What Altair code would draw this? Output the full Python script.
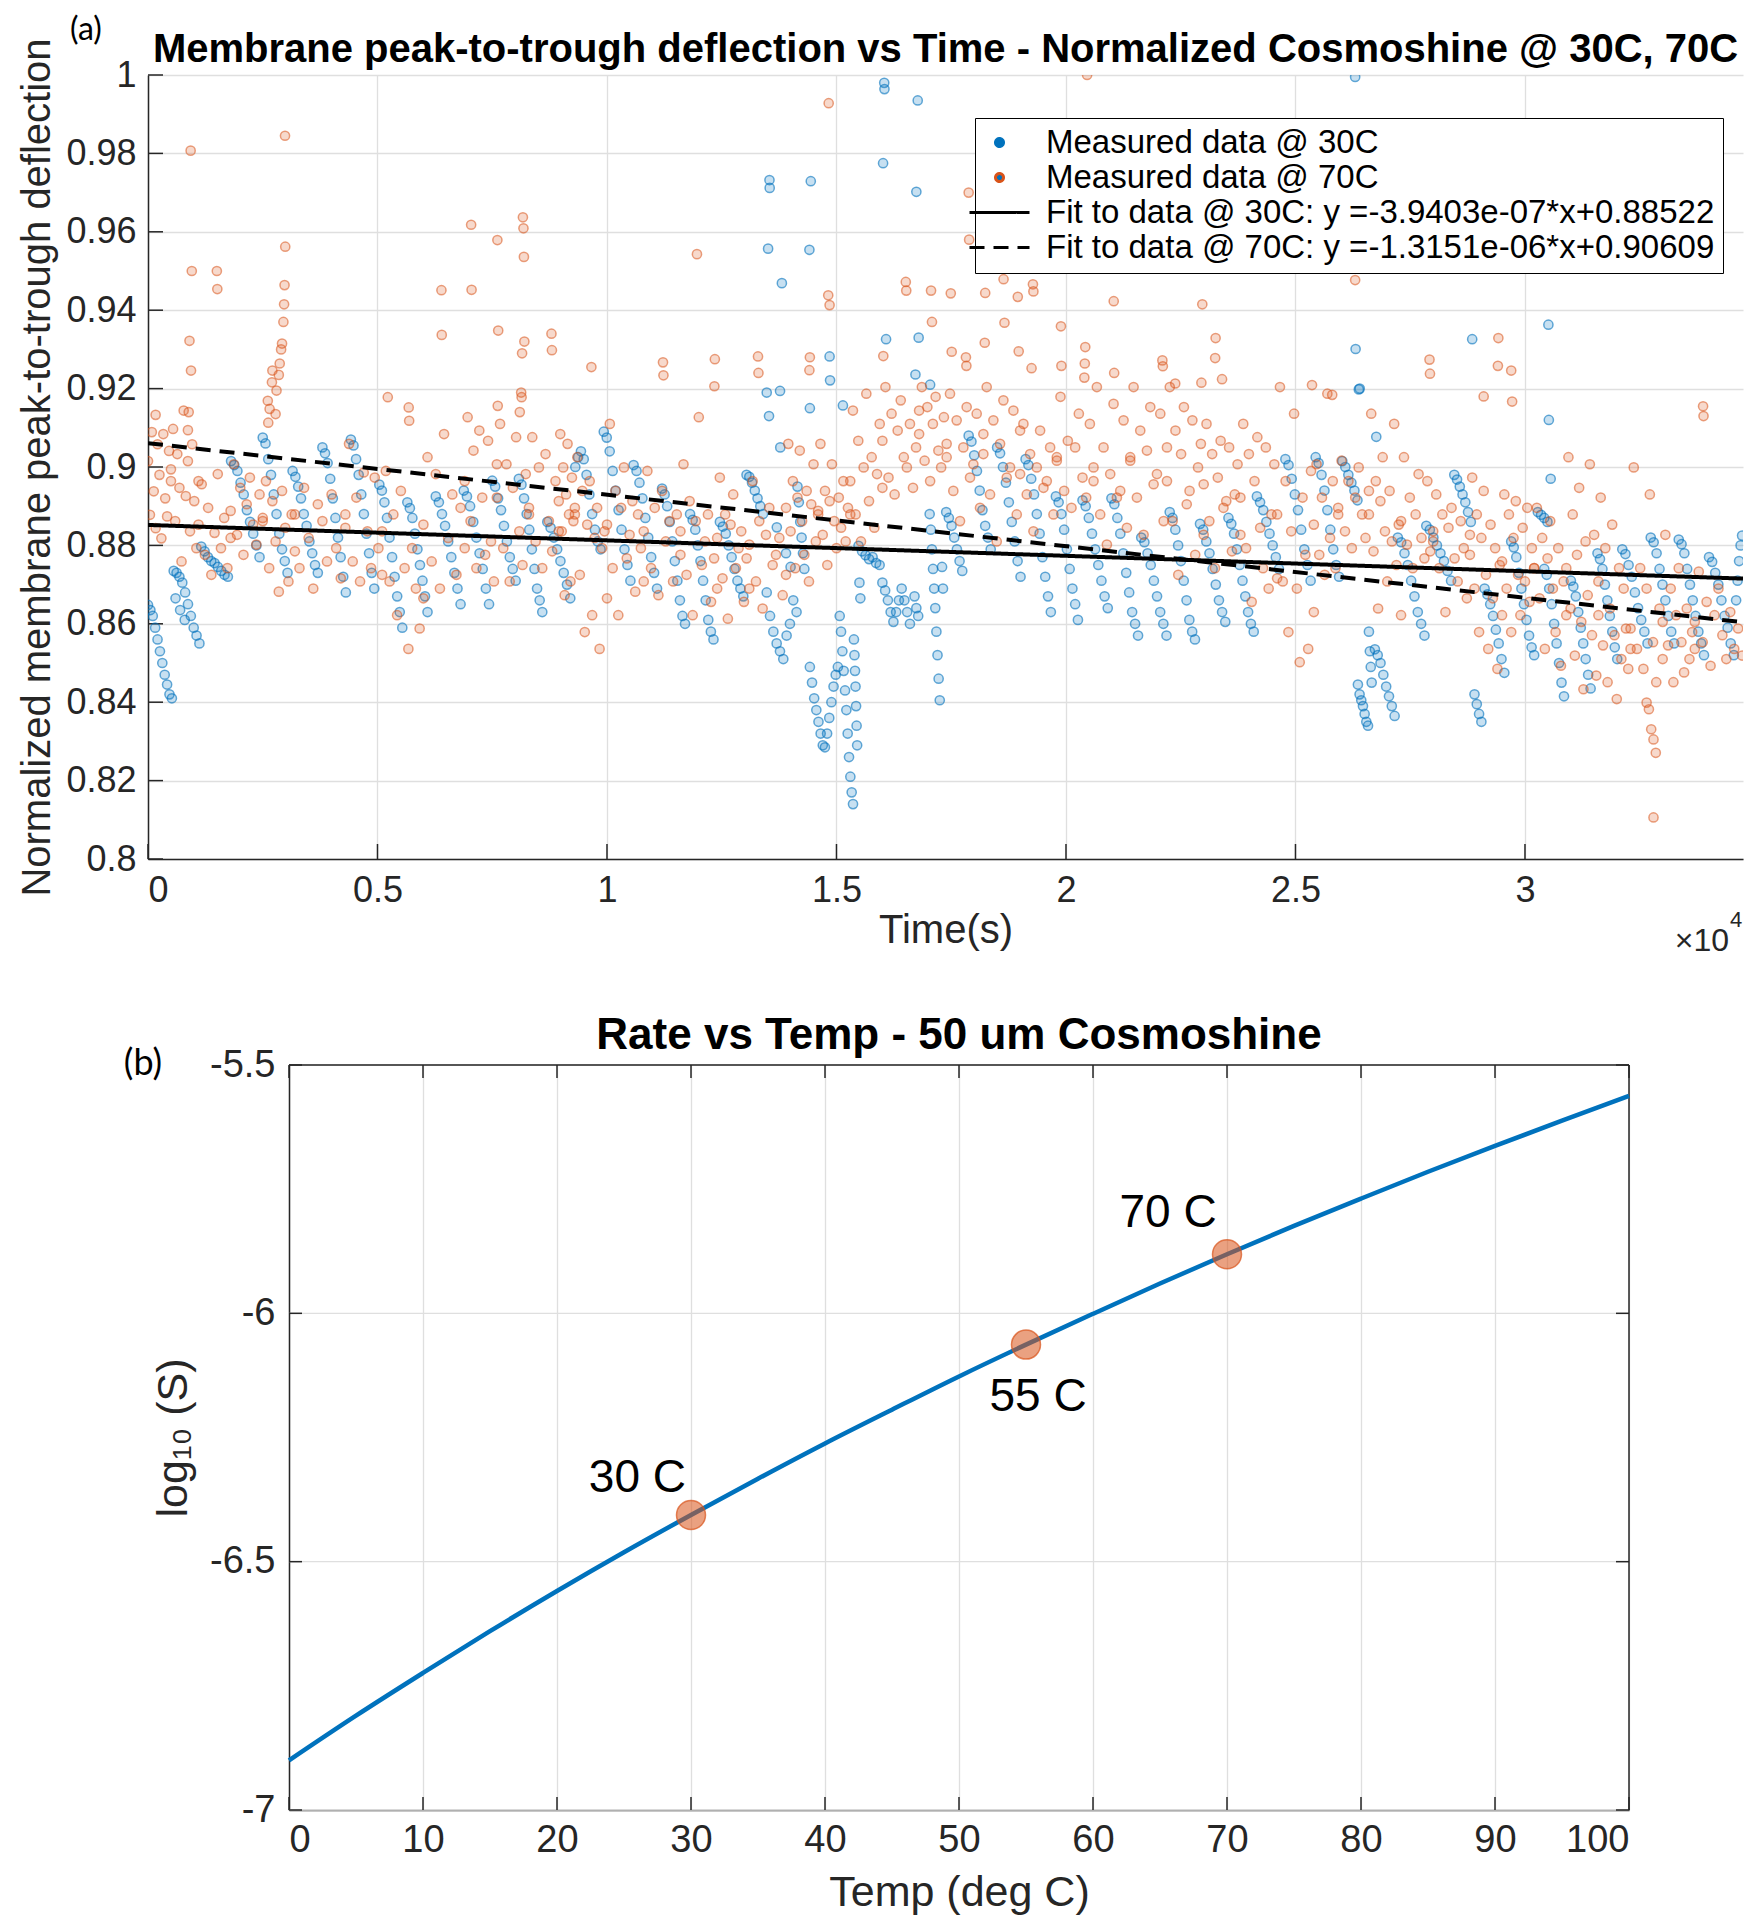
import altair as alt
import pandas as pd

FONT = "Liberation Sans"
AX = "#262626"
GRID = "#dfdfdf"
BLUE = "#0072BD"
ORANGE = "#D95319"

S1 = "Measured data @ 30C"
S2 = "Measured data @ 70C"
S3 = "Fit to data @ 30C: y =-3.9403e-07*x+0.88522"
S4 = "Fit to data @ 70C: y =-1.3151e-06*x+0.90609"
SERIES = [S1, S2, S3, S4]
TITLE_A = "Membrane peak-to-trough deflection vs Time - Normalized Cosmoshine @ 30C, 70C"
TITLE_B = "Rate vs Temp - 50 um Cosmoshine"

# ---------------- panel (a) data ----------------
# blue (30C) saw-tooth runs: (start time, end time, values read along the run)
BLUE_TEETH = [
    (0, 520, [0.8648, 0.8635, 0.862, 0.859, 0.856, 0.853, 0.85, 0.847, 0.8445, 0.842, 0.841]),
    (560, 1120, [0.8735, 0.873, 0.872, 0.8705, 0.868, 0.865, 0.862, 0.859, 0.857, 0.855]),
    (600, 800, [0.8665, 0.8635, 0.861]),
    (1160, 1740, [0.8797, 0.8785, 0.877, 0.876, 0.8755, 0.8745, 0.8735, 0.8725, 0.872]),
    (1810, 2430, [0.9015, 0.9005, 0.899, 0.896, 0.893, 0.889, 0.886, 0.883, 0.88, 0.877]),
    (2500, 3040, [0.9075, 0.906, 0.902, 0.898, 0.893, 0.888, 0.883, 0.879, 0.876, 0.873]),
    (3150, 3700, [0.899, 0.8975, 0.895, 0.892, 0.888, 0.885, 0.881, 0.878, 0.875, 0.873]),
    (3800, 4310, [0.905, 0.9035, 0.901, 0.897, 0.892, 0.887, 0.882, 0.877, 0.872, 0.868]),
    (4420, 4930, [0.907, 0.9055, 0.902, 0.898, 0.893, 0.888, 0.883, 0.878, 0.873, 0.869]),
    (5040, 5540, [0.8955, 0.894, 0.891, 0.887, 0.882, 0.877, 0.872, 0.867, 0.863, 0.859]),
    (5650, 6090, [0.891, 0.8895, 0.887, 0.883, 0.879, 0.875, 0.871, 0.867, 0.863]),
    (6270, 6810, [0.8925, 0.891, 0.888, 0.885, 0.881, 0.877, 0.873, 0.869, 0.865]),
    (6880, 7430, [0.894, 0.8925, 0.89, 0.886, 0.882, 0.878, 0.874, 0.869, 0.865]),
    (7500, 8010, [0.8965, 0.895, 0.892, 0.889, 0.885, 0.881, 0.877, 0.874, 0.871]),
    (8080, 8590, [0.897, 0.8955, 0.892, 0.888, 0.884, 0.879, 0.874, 0.869, 0.866, 0.863]),
    (8700, 9200, [0.886, 0.8845, 0.882, 0.879, 0.876, 0.873, 0.87, 0.8665]),
    (9310, 9860, [0.9, 0.9025, 0.904, 0.902, 0.898, 0.893, 0.888, 0.884, 0.881, 0.879]),
    (9930, 10510, [0.909, 0.9075, 0.904, 0.899, 0.894, 0.889, 0.884, 0.879, 0.875, 0.871]),
    (10580, 11090, [0.9005, 0.899, 0.896, 0.892, 0.887, 0.882, 0.877, 0.873, 0.869]),
    (11200, 11700, [0.8945, 0.893, 0.89, 0.886, 0.881, 0.876, 0.871, 0.866, 0.862, 0.86]),
    (11810, 12320, [0.888, 0.8865, 0.884, 0.88, 0.876, 0.871, 0.866, 0.861, 0.858, 0.856]),
    (12460, 12970, [0.886, 0.8848, 0.883, 0.88, 0.877, 0.874, 0.871, 0.869, 0.867]),
    (13040, 13400, [0.898, 0.8975, 0.896, 0.894, 0.892, 0.89, 0.888]),
    (13480, 14130, [0.868, 0.862, 0.858, 0.855, 0.853, 0.851, 0.857, 0.86, 0.866, 0.863]),
    (14150, 14300, [0.895, 0.891, 0.886, 0.882, 0.878, 0.874]),
    (14420, 15030, [0.849, 0.845, 0.841, 0.838, 0.835, 0.832, 0.829, 0.8285, 0.832, 0.836, 0.84, 0.844, 0.847, 0.849]),
    (15070, 15360, [0.862, 0.858, 0.853, 0.848, 0.843, 0.838, 0.832, 0.826, 0.821, 0.817, 0.814]),
    (15380, 15450, [0.856, 0.852, 0.848, 0.844, 0.839, 0.834, 0.829]),
    (15480, 15940, [0.8799, 0.8785, 0.8775, 0.8765, 0.877, 0.8755, 0.875]),
    (16000, 16600, [0.8705, 0.8685, 0.866, 0.863, 0.8605, 0.863, 0.866, 0.869, 0.866, 0.863, 0.86]),
    (16700, 16780, [0.867, 0.864, 0.862]),
    (17030, 17250, [0.888, 0.884, 0.879, 0.874, 0.869, 0.864, 0.858, 0.852, 0.846, 0.8405]),
    (17390, 17740, [0.8885, 0.887, 0.885, 0.882, 0.879, 0.876, 0.8735]),
    (17880, 18360, [0.908, 0.9065, 0.903, 0.899, 0.894, 0.889, 0.885, 0.882, 0.879]),
    (18500, 19010, [0.905, 0.9035, 0.9, 0.896, 0.891, 0.886, 0.881, 0.876, 0.872]),
    (19120, 19670, [0.902, 0.9005, 0.897, 0.893, 0.888, 0.883, 0.877, 0.872, 0.867, 0.863]),
    (19780, 20260, [0.8925, 0.891, 0.888, 0.884, 0.879, 0.874, 0.869, 0.865, 0.861]),
    (20360, 20910, [0.8915, 0.89, 0.887, 0.883, 0.879, 0.875, 0.871, 0.867, 0.864]),
    (20990, 21570, [0.892, 0.8905, 0.887, 0.883, 0.878, 0.873, 0.868, 0.863, 0.86, 0.857]),
    (21640, 22190, [0.882, 0.8808, 0.878, 0.875, 0.871, 0.867, 0.863, 0.86, 0.857]),
    (22260, 22810, [0.8885, 0.887, 0.884, 0.88, 0.876, 0.871, 0.866, 0.861, 0.858, 0.856]),
    (22920, 23470, [0.8855, 0.884, 0.881, 0.878, 0.874, 0.87, 0.866, 0.863, 0.8605]),
    (23540, 24090, [0.887, 0.8855, 0.883, 0.879, 0.875, 0.871, 0.867, 0.863, 0.86, 0.858]),
    (24160, 24640, [0.8925, 0.891, 0.889, 0.886, 0.883, 0.88, 0.877, 0.874]),
    (24780, 25330, [0.902, 0.9005, 0.897, 0.893, 0.889, 0.884, 0.879, 0.875, 0.871]),
    (25440, 25950, [0.9025, 0.901, 0.898, 0.894, 0.889, 0.884, 0.879, 0.875, 0.872]),
    (26020, 26350, [0.9015, 0.9, 0.898, 0.896, 0.894, 0.8915]),
    (26360, 26580, [0.8445, 0.842, 0.8405, 0.839, 0.837, 0.835, 0.834]),
    (26600, 26660, [0.858, 0.853, 0.849, 0.845]),
    (26730, 27160, [0.8535, 0.852, 0.85, 0.847, 0.844, 0.8415, 0.839, 0.8365]),
    (27230, 27810, [0.882, 0.8808, 0.878, 0.875, 0.871, 0.867, 0.863, 0.86, 0.857]),
    (27850, 28390, [0.885, 0.884, 0.882, 0.88, 0.878, 0.876, 0.8735, 0.871]),
    (28460, 28820, [0.898, 0.8968, 0.895, 0.893, 0.891, 0.8885, 0.886]),
    (28900, 29050, [0.842, 0.8395, 0.837, 0.835]),
    (29120, 29550, [0.869, 0.8675, 0.865, 0.862, 0.8585, 0.855, 0.851, 0.8475]),
    (29700, 30200, [0.881, 0.8795, 0.877, 0.873, 0.869, 0.865, 0.861, 0.857, 0.854, 0.852]),
    (30280, 30490, [0.8885, 0.8878, 0.887, 0.886]),
    (30420, 30850, [0.874, 0.8725, 0.869, 0.865, 0.86, 0.855, 0.85, 0.845, 0.8415]),
    (31000, 31430, [0.871, 0.8695, 0.867, 0.863, 0.859, 0.855, 0.851, 0.847, 0.8435]),
    (31580, 32010, [0.878, 0.8765, 0.874, 0.87, 0.866, 0.862, 0.858, 0.854, 0.851]),
    (32120, 32670, [0.879, 0.8778, 0.875, 0.872, 0.868, 0.864, 0.861, 0.858, 0.855]),
    (32740, 33250, [0.882, 0.8808, 0.878, 0.874, 0.87, 0.866, 0.862, 0.858, 0.855]),
    (33350, 33900, [0.8815, 0.8803, 0.878, 0.874, 0.87, 0.866, 0.862, 0.858, 0.855, 0.852]),
    (34010, 34550, [0.877, 0.8758, 0.873, 0.87, 0.866, 0.862, 0.859, 0.855, 0.852]),
    (34600, 34730, [0.866, 0.871, 0.876, 0.88, 0.8825]),
]
BLUE_OUTLIERS = [
    (13480, 0.919), (13510, 0.9557), (13530, 0.913), (13540, 0.9732), (13545, 0.9712),
    (13700, 0.8846), (13770, 0.9194), (13775, 0.905), (13810, 0.9469), (13900, 0.878),
    (14000, 0.8745), (14410, 0.9554), (14420, 0.915), (14440, 0.9729), (14850, 0.9282),
    (14860, 0.9221), (15140, 0.9157), (15500, 0.8705), (15520, 0.8665), (16015, 0.9775),
    (16040, 0.998), (16045, 0.9964), (16080, 0.9326), (16720, 0.9236), (16740, 0.9702),
    (16770, 0.9935), (16790, 0.933), (17040, 0.921), (17300, 0.8745), (17320, 0.869),
    (26300, 0.9995), (26310, 0.9301), (26380, 0.9198), (26400, 0.92), (26760, 0.9077),
    (28850, 0.9326), (30510, 0.9363), (30520, 0.912), (30560, 0.897),
]
# orange (70C) scattered points: (window start, window end, values read in that window)
ORANGE_WINDOWS = [
    (0, 500, [0.9015, 0.8878, 0.9089, 0.8938, 0.8844, 0.9058, 0.898, 0.8818, 0.9084, 0.892, 0.8874, 0.9041, 0.8964]),
    (500, 1100, [0.8994, 0.9097, 0.8862, 0.9033, 0.8947, 0.8759, 0.9144, 0.8926, 0.9015, 0.8836, 0.9058, 0.8913, 0.8793, 0.8964]),
    (1100, 1800, [0.8853, 0.8956, 0.8776, 0.8896, 0.8725, 0.8832, 0.8982, 0.8793, 0.887, 0.8742, 0.8819]),
    (1800, 2500, [0.8888, 0.9007, 0.8827, 0.8947, 0.8776, 0.8905, 0.8973, 0.8853, 0.8802, 0.893, 0.887]),
    (2500, 3200, [0.8862, 0.8964, 0.8742, 0.8913, 0.881, 0.8682, 0.8939, 0.8845, 0.8708, 0.8879, 0.8785]),
    (3200, 4300, [0.8879, 0.8742, 0.8947, 0.8819, 0.869, 0.8905, 0.8862, 0.8759, 0.893, 0.8793, 0.8716, 0.8845]),
    (4300, 5100, [0.8879, 0.9059, 0.8759, 0.8922, 0.8708, 0.8986, 0.8836, 0.8742, 0.8973, 0.8793, 0.8725]),
    (5100, 6000, [0.8836, 0.899, 0.8708, 0.8879, 0.8622, 0.8939, 0.8742, 0.8536, 0.8793, 0.869, 0.8588, 0.8665]),
    (6000, 6900, [0.8853, 0.9025, 0.8759, 0.8982, 0.869, 0.9084, 0.8819, 0.893, 0.8725, 0.8896, 0.8793]),
    (6900, 7600, [0.8964, 0.9127, 0.8862, 0.9042, 0.8742, 0.9093, 0.8922, 0.8776, 0.9067, 0.881, 0.8708, 0.9007]),
    (7600, 8300, [0.8922, 0.911, 0.8793, 0.9007, 0.8708, 0.8947, 0.9076, 0.8836, 0.875, 0.8982, 0.8879]),
    (8300, 8950, [0.8896, 0.9076, 0.881, 0.8999, 0.8742, 0.9033, 0.8862, 0.8785, 0.8964, 0.8836]),
    (8950, 9300, [0.8913, 0.9084, 0.8836, 0.8999, 0.8673, 0.893, 0.9059, 0.8879, 0.8708, 0.8973, 0.8862, 0.8896]),
    (9300, 10000, [0.8879, 0.9025, 0.8725, 0.8939, 0.8579, 0.8853, 0.8964, 0.8622, 0.8819, 0.8896, 0.8536, 0.8793, 0.8836, 0.8665]),
    (10000, 10800, [0.8853, 0.911, 0.8742, 0.8939, 0.8622, 0.8896, 0.8999, 0.8767, 0.8827, 0.8913, 0.8682, 0.8879, 0.8793, 0.8708]),
    (10800, 11600, [0.8836, 0.899, 0.8742, 0.8896, 0.8673, 0.8939, 0.881, 0.8862, 0.8708, 0.8879, 0.8776]),
    (11600, 12400, [0.8836, 0.9007, 0.8725, 0.8913, 0.8622, 0.8862, 0.9127, 0.875, 0.881, 0.8879, 0.8656, 0.8767, 0.869]),
    (12400, 13100, [0.8819, 0.8973, 0.8716, 0.8879, 0.8613, 0.8853, 0.893, 0.8742, 0.8793, 0.8836, 0.8656, 0.8767, 0.869]),
    (13100, 13900, [0.8802, 0.8964, 0.8708, 0.8862, 0.8639, 0.8827, 0.8896, 0.875, 0.8776, 0.8819, 0.8673, 0.8725]),
    (13900, 14600, [0.8896, 0.9059, 0.8836, 0.8964, 0.8742, 0.8922, 0.9042, 0.8862, 0.8776, 0.8939, 0.8708, 0.8905, 0.9007, 0.881, 0.8879]),
    (14600, 15300, [0.8888, 0.9059, 0.8827, 0.8939, 0.875, 0.8913, 0.9007, 0.8862, 0.8793, 0.8922, 0.8845, 0.8964, 0.881, 0.8896, 0.8879]),
    (15300, 16000, [0.8964, 0.9144, 0.8879, 0.9067, 0.881, 0.8999, 0.9187, 0.8913, 0.9025, 0.8845, 0.8982, 0.911, 0.8947]),
    (16000, 16800, [0.9067, 0.9204, 0.8973, 0.9136, 0.893, 0.9093, 0.917, 0.9025, 0.8999, 0.911, 0.8947, 0.905, 0.9144]),
    (16800, 17400, [0.9084, 0.9204, 0.9016, 0.9153, 0.8964, 0.911, 0.9179, 0.9042, 0.8999, 0.9127, 0.9059]),
    (17400, 18200, [0.9025, 0.9187, 0.8939, 0.9119, 0.8862, 0.905, 0.9153, 0.8973, 0.9007, 0.9136, 0.8896, 0.9084]),
    (18200, 19000, [0.9033, 0.9204, 0.893, 0.9119, 0.881, 0.9059, 0.917, 0.8973, 0.8999, 0.9144, 0.8879, 0.9093]),
    (19000, 19800, [0.8982, 0.911, 0.893, 0.9033, 0.8836, 0.8999, 0.9093, 0.8947, 0.8964, 0.905, 0.8879, 0.9016]),
    (19800, 20600, [0.9025, 0.9179, 0.8939, 0.9067, 0.8896, 0.905, 0.9136, 0.8973, 0.8922, 0.911, 0.8999]),
    (20600, 21400, [0.8964, 0.9204, 0.8879, 0.905, 0.8802, 0.8982, 0.9161, 0.8922, 0.8939, 0.9119, 0.8845, 0.9025]),
    (21400, 22200, [0.9016, 0.9204, 0.8922, 0.9093, 0.8827, 0.9042, 0.9153, 0.8956, 0.8982, 0.9136, 0.8862, 0.905]),
    (22200, 23000, [0.8964, 0.9204, 0.8862, 0.9093, 0.8725, 0.9033, 0.9153, 0.8905, 0.8939, 0.9119, 0.8776, 0.8999, 0.9059, 0.8827]),
    (23000, 23800, [0.8956, 0.911, 0.8862, 0.9033, 0.8742, 0.8973, 0.9067, 0.8896, 0.8913, 0.905, 0.8785, 0.893, 0.9007, 0.8827]),
    (23800, 24600, [0.8922, 0.911, 0.8793, 0.9033, 0.8656, 0.8964, 0.9076, 0.8845, 0.8742, 0.905, 0.869, 0.8879, 0.9007, 0.8716]),
    (24600, 25400, [0.8879, 0.9204, 0.8708, 0.8964, 0.8579, 0.8836, 0.9136, 0.869, 0.8502, 0.8922, 0.8776, 0.8536, 0.899, 0.863]),
    (25400, 25930, [0.8853, 0.9007, 0.8776, 0.8922, 0.8725, 0.9187, 0.8819, 0.8964, 0.8742, 0.8879]),
    (25930, 26600, [0.8896, 0.9016, 0.8836, 0.8964, 0.8793, 0.8922, 0.8999, 0.8879, 0.8819, 0.8939]),
    (26600, 27300, [0.8879, 0.9136, 0.8785, 0.8964, 0.8639, 0.8913, 0.9025, 0.8836, 0.8708, 0.8939, 0.881, 0.911, 0.875, 0.8853, 0.8622]),
    (27300, 28000, [0.8862, 0.9025, 0.8802, 0.8922, 0.8742, 0.8879, 0.8982, 0.8819, 0.8767, 0.8964, 0.8785, 0.8836]),
    (28000, 28800, [0.881, 0.893, 0.8742, 0.8879, 0.863, 0.8845, 0.8896, 0.8767, 0.8708, 0.8862, 0.8793, 0.8665, 0.8827]),
    (28800, 29500, [0.8776, 0.8973, 0.869, 0.8879, 0.8579, 0.8819, 0.8939, 0.8725, 0.8536, 0.8853, 0.8665, 0.8793, 0.8485, 0.875, 0.8622]),
    (29500, 30200, [0.8759, 0.893, 0.869, 0.8879, 0.8579, 0.8819, 0.8913, 0.8725, 0.8622, 0.8845, 0.8708, 0.8896, 0.8656, 0.8793, 0.8742]),
    (30200, 30900, [0.8742, 0.8896, 0.8665, 0.8819, 0.8536, 0.8767, 0.8862, 0.869, 0.8579, 0.8793, 0.8493, 0.8708, 0.8622]),
    (30900, 31600, [0.8742, 0.9025, 0.8639, 0.8879, 0.8519, 0.8776, 0.8947, 0.8605, 0.8433, 0.881, 0.8673, 0.9007, 0.8571, 0.8827, 0.8468, 0.8708]),
    (31600, 32300, [0.8622, 0.8922, 0.8545, 0.8793, 0.8451, 0.8639, 0.8853, 0.8571, 0.8408, 0.8742, 0.851, 0.869, 0.8588, 0.8485, 0.8536]),
    (32300, 33000, [0.8588, 0.8999, 0.8536, 0.8742, 0.8485, 0.869, 0.893, 0.8553, 0.8451, 0.8639, 0.851]),
    (32650, 32850, [0.8399, 0.8382, 0.8331, 0.8305, 0.8271]),
    (33000, 33700, [0.8605, 0.8827, 0.8545, 0.869, 0.8451, 0.8622, 0.8742, 0.8553, 0.8476, 0.8639, 0.851, 0.8579, 0.8536]),
    (33700, 34730, [0.8605, 0.8733, 0.8553, 0.8656, 0.8493, 0.8622, 0.869, 0.8571, 0.851, 0.863, 0.8536, 0.8588, 0.8519]),
]
ORANGE_OUTLIERS = [
    (166, 0.9133), (870, 0.9094), (887, 0.914), (904, 0.9322), (929, 0.9807), (937, 0.9246),
    (954, 0.950), (1500, 0.950), (1510, 0.9454), (2610, 0.9169), (2620, 0.9113), (2650, 0.9148),
    (2700, 0.9216), (2710, 0.9246), (2780, 0.9135), (2800, 0.9195), (2850, 0.9235), (2870, 0.9264),
    (2900, 0.930), (2920, 0.9315), (2950, 0.937), (2965, 0.9415), (2975, 0.9464), (2985, 0.9845),
    (2990, 0.9562), (5224, 0.9178), (5680, 0.9152), (5690, 0.9118), (6393, 0.9451), (6400, 0.9337),
    (7040, 0.9618), (7050, 0.9452), (7612, 0.9579), (7630, 0.9348), (7620, 0.9156), (8100, 0.914),
    (8130, 0.919), (8140, 0.9178), (8150, 0.929), (8168, 0.9637), (8180, 0.9609), (8190, 0.9536),
    (8200, 0.932), (8790, 0.934), (8800, 0.9298), (9660, 0.9255), (11220, 0.9267), (11230, 0.9234),
    (11960, 0.9543), (12340, 0.9206), (12350, 0.9275), (13290, 0.9282), (13300, 0.924),
    (14410, 0.9247), (14420, 0.928), (14820, 0.9438), (14830, 0.9928), (14850, 0.9413),
    (16020, 0.9283), (16510, 0.9472), (16520, 0.945), (17060, 0.945), (17080, 0.937),
    (17490, 0.9443), (17510, 0.9294), (17820, 0.928), (17830, 0.9258), (17880, 0.970),
    (17890, 0.958), (18230, 0.9317), (18240, 0.9444), (18640, 0.9479), (18660, 0.9368),
    (18950, 0.9434), (18970, 0.9295), (19250, 0.9252), (19280, 0.9466), (19290, 0.9448),
    (19890, 0.9359), (19900, 0.9258), (20400, 0.9228), (20410, 0.9264), (20420, 0.9306),
    (20460, 1.0), (21040, 0.9423), (21050, 0.924), (22100, 0.9272), (22110, 0.9257),
    (22380, 0.9213), (22950, 0.9215), (22965, 0.952), (22970, 0.9415), (23250, 0.9278),
    (23260, 0.9329), (23400, 0.9224), (25360, 0.9209), (25800, 0.9184), (26290, 0.9529),
    (26300, 0.9477), (27920, 0.9274), (27930, 0.9238), (29100, 0.918), (29410, 0.9258),
    (29420, 0.9329), (29700, 0.9246), (29720, 0.9167), (32800, 0.8106), (33880, 0.9155),
    (33890, 0.913),
]
# fit lines (from the legend equations), at the two ends of the time axis
FIT_T = [0, 34750]
FIT_30 = [0.88522, 0.87153]
FIT_70 = [0.90609, 0.86039]

XMAX_A = 34750
XTICKS_A = [0, 5000, 10000, 15000, 20000, 25000, 30000]
YTICKS_A = [0.8, 0.82, 0.84, 0.86, 0.88, 0.9, 0.92, 0.94, 0.96, 0.98, 1.0]

# ---------------- panel (b) data ----------------
CURVE_T = [0, 5, 10, 15, 20, 25, 30, 35, 40, 45, 50, 55, 60, 65, 70, 75, 80, 85, 90, 95, 100]
CURVE_L = [-6.900, -6.810, -6.724, -6.640, -6.559, -6.481, -6.406, -6.333, -6.262, -6.194,
           -6.127, -6.063, -6.001, -5.940, -5.881, -5.824, -5.769, -5.715, -5.663, -5.612, -5.562]
PT_T = [30, 55, 70]
PT_L = [-6.406, -6.063, -5.881]
LAB_TEXT = ["30 C", "55 C", "70 C"]
LAB_T = [26.0, 55.9, 65.6]
LAB_L = [-6.332, -6.168, -5.797]
XTICKS_B = [0, 10, 20, 30, 40, 50, 60, 70, 80, 90, 100]
YTICKS_B = [-7, -6.5, -6, -5.5]


def spread(groups):
    rows = []
    for t0, t1, vals in groups:
        n = len(vals)
        for i, v in enumerate(vals):
            t = t0 if n == 1 else t0 + (t1 - t0) * i / (n - 1)
            rows.append((t, v))
    return rows


df_blue = pd.DataFrame(spread(BLUE_TEETH) + BLUE_OUTLIERS, columns=["t", "v"])
df_blue["series"] = S1
df_orange = pd.DataFrame(spread(ORANGE_WINDOWS) + ORANGE_OUTLIERS, columns=["t", "v"])
df_orange["series"] = S2
df_fit = pd.DataFrame({
    "t": FIT_T + FIT_T,
    "v": FIT_30 + FIT_70,
    "series": [S3, S3, S4, S4],
})

# layout (pixels)
W_A, H_A = 1595, 784
OFF_B, PW_B, H_B = 141, 1340, 745      # panel (b) plot starts OFF_B px right of panel (a)'s
W_B = OFF_B + PW_B


def axis(title, lab, tit, lpad, tpad, values, expr, **kw):
    return alt.Axis(
        title=title, values=values, labelExpr=expr,
        labelFont=FONT, labelFontSize=lab, labelColor=AX, labelPadding=lpad,
        titleFont=FONT, titleFontSize=tit, titleFontWeight="normal", titleColor=AX,
        titlePadding=tpad, domainColor=AX, domainWidth=1.5, ticks=False,
        gridColor=GRID, gridWidth=1.3, labelOverlap=False, **kw,
    )


def note(text, x, y, size, font=FONT, weight="normal", align="center",
         baseline="middle", color="black"):
    return alt.Chart(pd.DataFrame({"s": [text]})).mark_text(
        font=font, fontSize=size, fontWeight=weight, align=align,
        baseline=baseline, color=color).encode(
        x=alt.value(x), y=alt.value(y), text="s:N")


def frame(x, y0, y1):
    # invisible rule: reserves the empty margin of a panel
    return alt.Chart(pd.DataFrame({"d": [0]})).mark_rule(opacity=0).encode(
        x=alt.value(x), x2=alt.value(x), y=alt.value(y0), y2=alt.value(y1))


def edge(x0, x1, y0, y1):
    return alt.Chart(pd.DataFrame({"d": [0]})).mark_rule(color=AX, strokeWidth=1.5).encode(
        x=alt.value(x0), x2=alt.value(x1), y=alt.value(y0), y2=alt.value(y1))


x_a = alt.X("t:Q", scale=alt.Scale(domain=[0, XMAX_A], nice=False, zero=False),
            axis=axis("Time(s)", 36, 40, 14, 2, XTICKS_A, "toString(datum.value / 10000)",
                      grid=True))
y_a = alt.Y("v:Q", scale=alt.Scale(domain=[0.8, 1.0], nice=False, zero=False),
            axis=axis("Normalized membrane peak-to-trough deflection", 36, 40, 12, 8,
                      YTICKS_A, "toString(datum.value)", grid=True))

color = alt.Color("series:N", title=None,
                  scale=alt.Scale(domain=SERIES, range=[BLUE, ORANGE, "black", "black"]))
shape = alt.Shape("series:N", title=None,
                  scale=alt.Scale(domain=SERIES,
                                  range=["circle", "circle", "M-7.5,0H7.5", "M-7.5,0H7.5"]))
dash = alt.StrokeDash("series:N", title=None,
                      scale=alt.Scale(domain=SERIES, range=[[1, 0], [1, 0], [1, 0], [15, 9]]))

ticks_x_a = alt.Chart(pd.DataFrame({"t": XTICKS_A})).mark_rule(color=AX, strokeWidth=1.5).encode(
    x=x_a, y=alt.value(H_A), y2=alt.value(H_A - 15))
ticks_y_a = alt.Chart(pd.DataFrame({"v": YTICKS_A})).mark_rule(color=AX, strokeWidth=1.5).encode(
    y=y_a, x=alt.value(0), x2=alt.value(15))

pts_blue = alt.Chart(df_blue).mark_point(
    filled=False, fill=BLUE, fillOpacity=0.22, strokeOpacity=0.6, strokeWidth=1.5,
    size=85, clip=True).encode(x=x_a, y=y_a, color=color, shape=shape)
pts_orange = alt.Chart(df_orange).mark_point(
    filled=False, fill=ORANGE, fillOpacity=0.22, strokeOpacity=0.55, strokeWidth=1.5,
    size=85, clip=True).encode(x=x_a, y=y_a, color=color, shape=shape)
fits = alt.Chart(df_fit).mark_line(strokeWidth=4, clip=True).encode(
    x=x_a, y=y_a, color=color, strokeDash=dash)

panel_a = alt.layer(
    ticks_x_a, ticks_y_a, pts_blue, pts_orange, fits,
    note(TITLE_A, W_A / 2, -13, 40, weight="bold", baseline="alphabetic"),
    note("(a)", -62, -45, 32, font="Lato"),
    note("\u00d710", W_A - 14, H_A + 92, 32, align="right", baseline="alphabetic", color=AX),
    note("4", W_A - 13, H_A + 68, 22, align="left", baseline="alphabetic", color=AX),
    frame(-139, -66, H_A + 110),
).properties(
    width=W_A, height=H_A,
    view=alt.ViewBackground(stroke="transparent"),
)

# ---------------- panel (b) ----------------
x_b = alt.X("T:Q", scale=alt.Scale(domain=[0, 100], nice=False, zero=False,
                                   range=[OFF_B, OFF_B + PW_B]),
            axis=axis("Temp (deg C)", 38, 43, 11, 12, XTICKS_B, "toString(datum.value)",
                      grid=True, titleX=OFF_B + PW_B / 2))
y_b = alt.Y("L:Q", scale=alt.Scale(domain=[-7, -5.5], nice=False, zero=False),
            axis=axis("log\u2081\u2080 (S)", 38, 43, 14, 14, YTICKS_B, "toString(datum.value)",
                      grid=False, offset=-OFF_B))

df_curve = pd.DataFrame({"T": CURVE_T, "L": CURVE_L})
df_pts = pd.DataFrame({"T": PT_T, "L": PT_L})
df_lab = pd.DataFrame({"T": LAB_T, "L": LAB_L, "s": LAB_TEXT})

tick_rule = dict(color=AX, strokeWidth=1.5)
ygrid_b = alt.Chart(pd.DataFrame({"L": YTICKS_B})).mark_rule(color=GRID, strokeWidth=1.3).encode(
    y=y_b, x=alt.value(OFF_B), x2=alt.value(W_B))
tb1 = alt.Chart(pd.DataFrame({"T": XTICKS_B})).mark_rule(**tick_rule).encode(
    x=x_b, y=alt.value(H_B), y2=alt.value(H_B - 13))
tb2 = alt.Chart(pd.DataFrame({"T": XTICKS_B})).mark_rule(**tick_rule).encode(
    x=x_b, y=alt.value(0), y2=alt.value(13))
tb3 = alt.Chart(pd.DataFrame({"L": YTICKS_B})).mark_rule(**tick_rule).encode(
    y=y_b, x=alt.value(OFF_B), x2=alt.value(OFF_B + 13))
tb4 = alt.Chart(pd.DataFrame({"L": YTICKS_B})).mark_rule(**tick_rule).encode(
    y=y_b, x=alt.value(W_B), x2=alt.value(W_B - 13))

curve = alt.Chart(df_curve).mark_line(color=BLUE, strokeWidth=4.5, interpolate="monotone").encode(
    x=x_b, y=y_b)
pts = alt.Chart(df_pts).mark_point(
    filled=True, shape="circle", size=841, color=ORANGE, fillOpacity=0.55,
    stroke=ORANGE, strokeOpacity=0.7, strokeWidth=1.5).encode(x=x_b, y=y_b)
labs = alt.Chart(df_lab).mark_text(
    font=FONT, fontSize=46, align="center", baseline="middle", color="black").encode(
    x=x_b, y=y_b, text="s:N")

panel_b = alt.layer(
    ygrid_b, tb1, tb2, tb3, tb4,
    edge(OFF_B, W_B, 0, 0), edge(W_B, W_B, 0, H_B),
    curve, pts, labs,
    note(TITLE_B, OFF_B + PW_B / 2, -16, 44, weight="bold", baseline="alphabetic"),
    note("(b)", -5, -1, 36, font="Lato"),
    frame(OFF_B, -60, 0),
).properties(
    width=W_B, height=H_B,
    view=alt.ViewBackground(stroke="transparent"),
)

chart = alt.vconcat(panel_a, panel_b, spacing=34).properties(
    padding=0, background="white"
).configure_legend(
    orient="none", legendX=827, legendY=43, padding=8, strokeColor="black",
    fillColor="white", labelFont=FONT, labelFontSize=33, labelColor="black",
    labelLimit=1200, symbolSize=64, symbolStrokeWidth=3, labelOffset=30,
    rowPadding=1, cornerRadius=0,
)

chart.save("out.html", embed_options={"renderer": "svg", "actions": False})
